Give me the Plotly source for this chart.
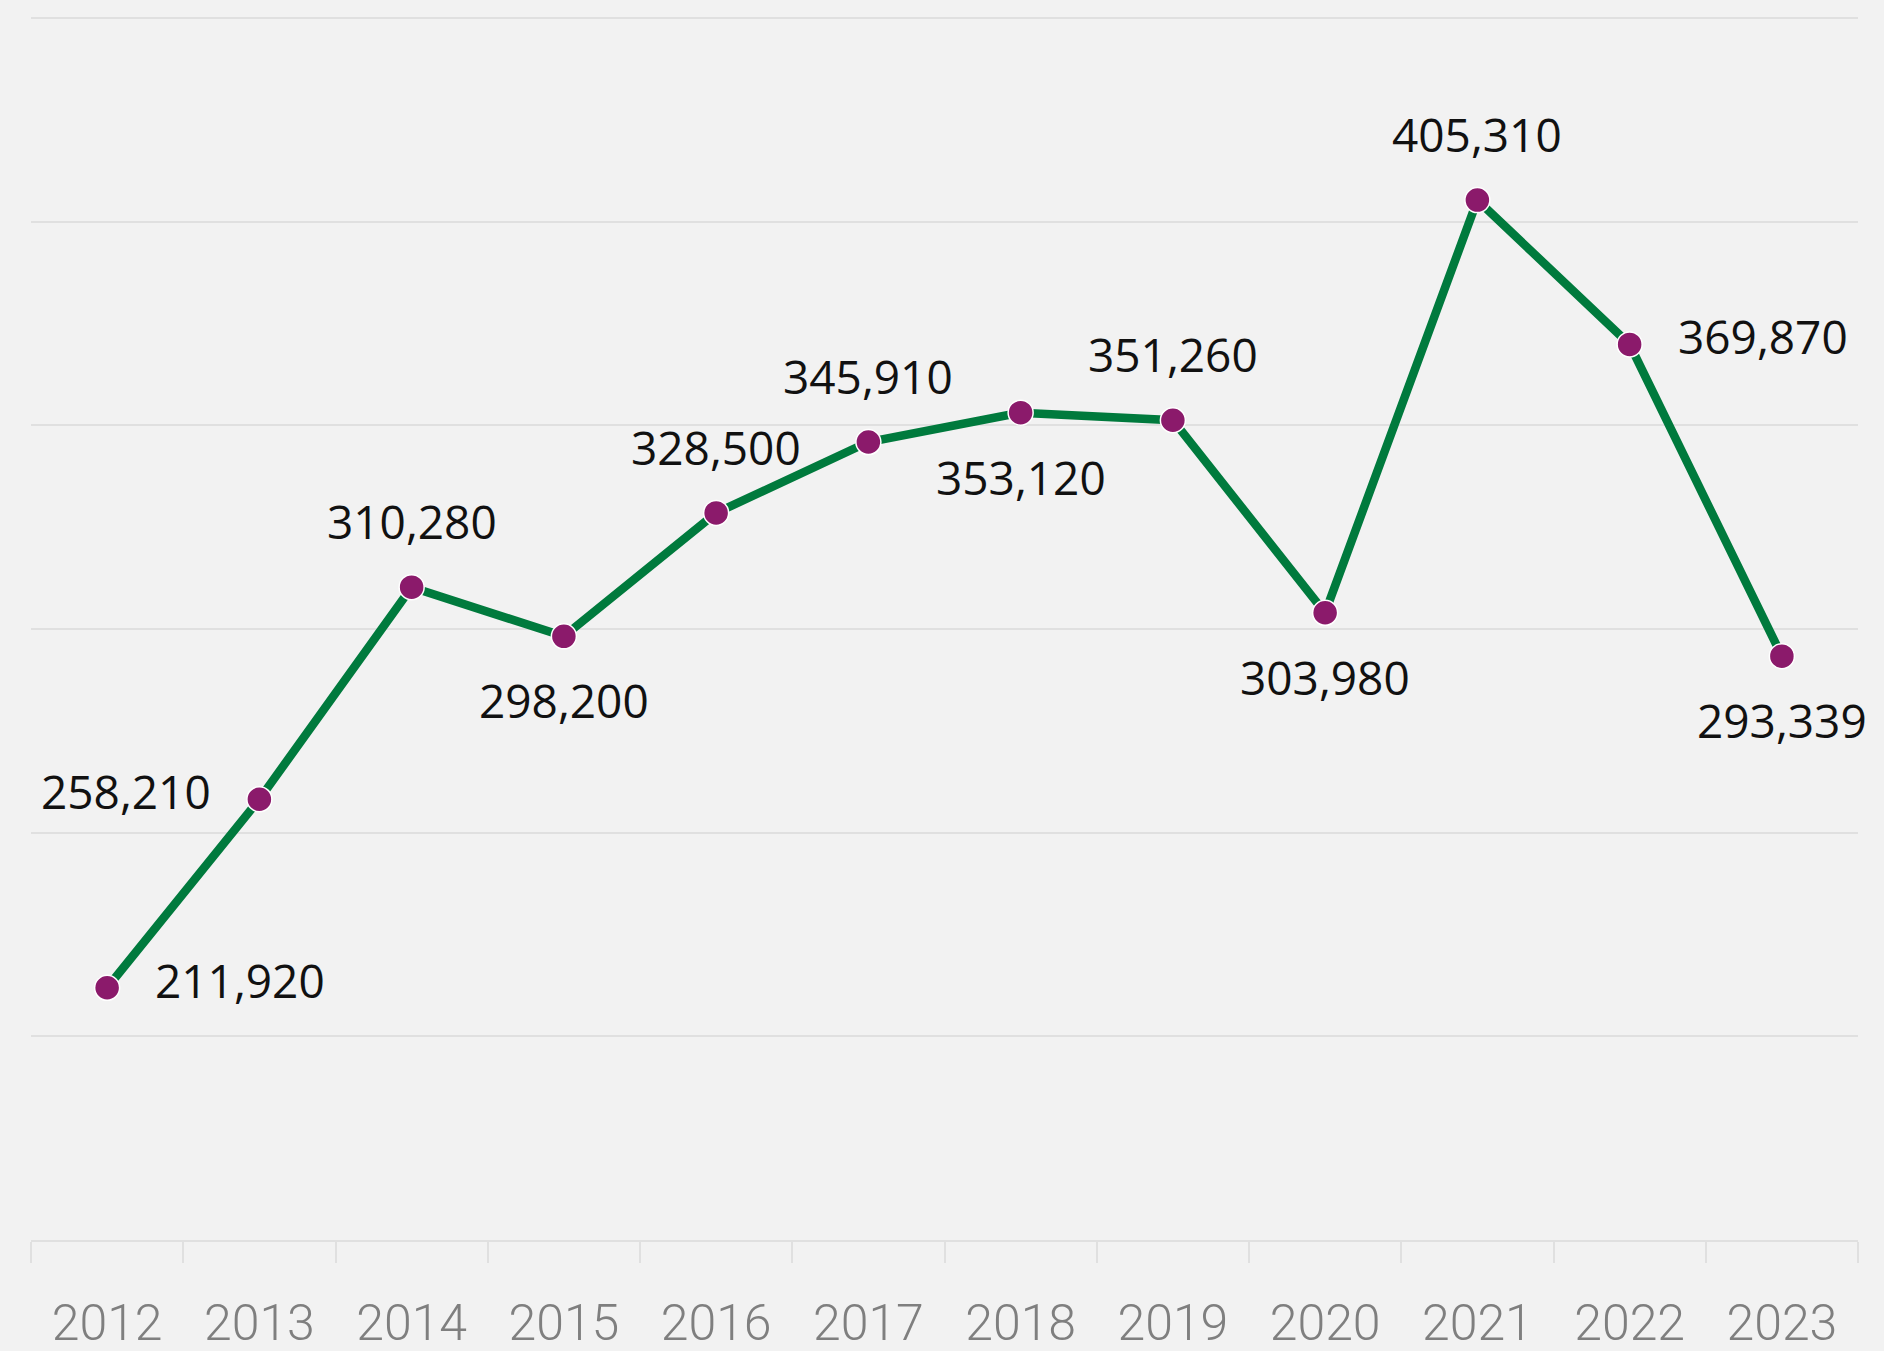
import plotly.graph_objects as go

years = ["2012", "2013", "2014", "2015", "2016", "2017", "2018", "2019", "2020", "2021", "2022", "2023"]
values = [211920, 258210, 310280, 298200, 328500, 345910, 353120, 351260, 303980, 405310, 369870, 293339]
label_pos = ["right", "left", "top", "bottom", "top", "top", "bottom", "top", "bottom", "top", "right", "bottom"]

LINE = "#007A3D"
MARK = "#8B1A6B"
BG = "#F2F2F2"

fig = go.Figure()
fig.add_trace(go.Scatter(
    x=years, y=values, mode="lines+markers",
    line=dict(color=LINE, width=8.5),
    marker=dict(color=MARK, size=25, line=dict(color="white", width=1.5)),
    hoverinfo="skip", showlegend=False,
))

for i, (v, p) in enumerate(zip(values, label_pos)):
    kw = dict(x=i, y=v, xref="x", yref="y", text=f"{v:,}", showarrow=False,
              font=dict(family="Open Sans", size=46, color="#111111"))
    if p == "right":
        kw.update(xanchor="left", yanchor="middle", xshift=46, yshift=8)
    elif p == "left":
        kw.update(xanchor="right", yanchor="middle", xshift=-46, yshift=8)
    elif p == "top":
        kw.update(xanchor="center", yanchor="middle", yshift=66)
    else:
        kw.update(xanchor="center", yanchor="middle", yshift=-64)
    fig.add_annotation(**kw)

fig.update_layout(
    width=1884, height=1351,
    margin=dict(l=31, r=26, t=16, b=111, autoexpand=False),
    paper_bgcolor=BG, plot_bgcolor=BG,
    xaxis=dict(
        type="category", range=[-0.5, len(years) - 0.5], autorange=False,
        showgrid=False, zeroline=False,
        showline=True, linecolor="#E0E0E0", linewidth=2,
        ticks="outside", tickson="boundaries", ticklen=21, tickcolor="#E0E0E0", tickwidth=2,
        tickangle=0,
        tickfont=dict(family="Roboto", size=50, color="#7F7F7F", weight=300),
        ticklabelstandoff=38,
    ),
    yaxis=dict(
        range=[150000, 450500], dtick=50000, showticklabels=False,
        showgrid=True, gridcolor="#E0E0E0", gridwidth=1.5, zeroline=False,
    ),
)

fig.write_html("out.html")
